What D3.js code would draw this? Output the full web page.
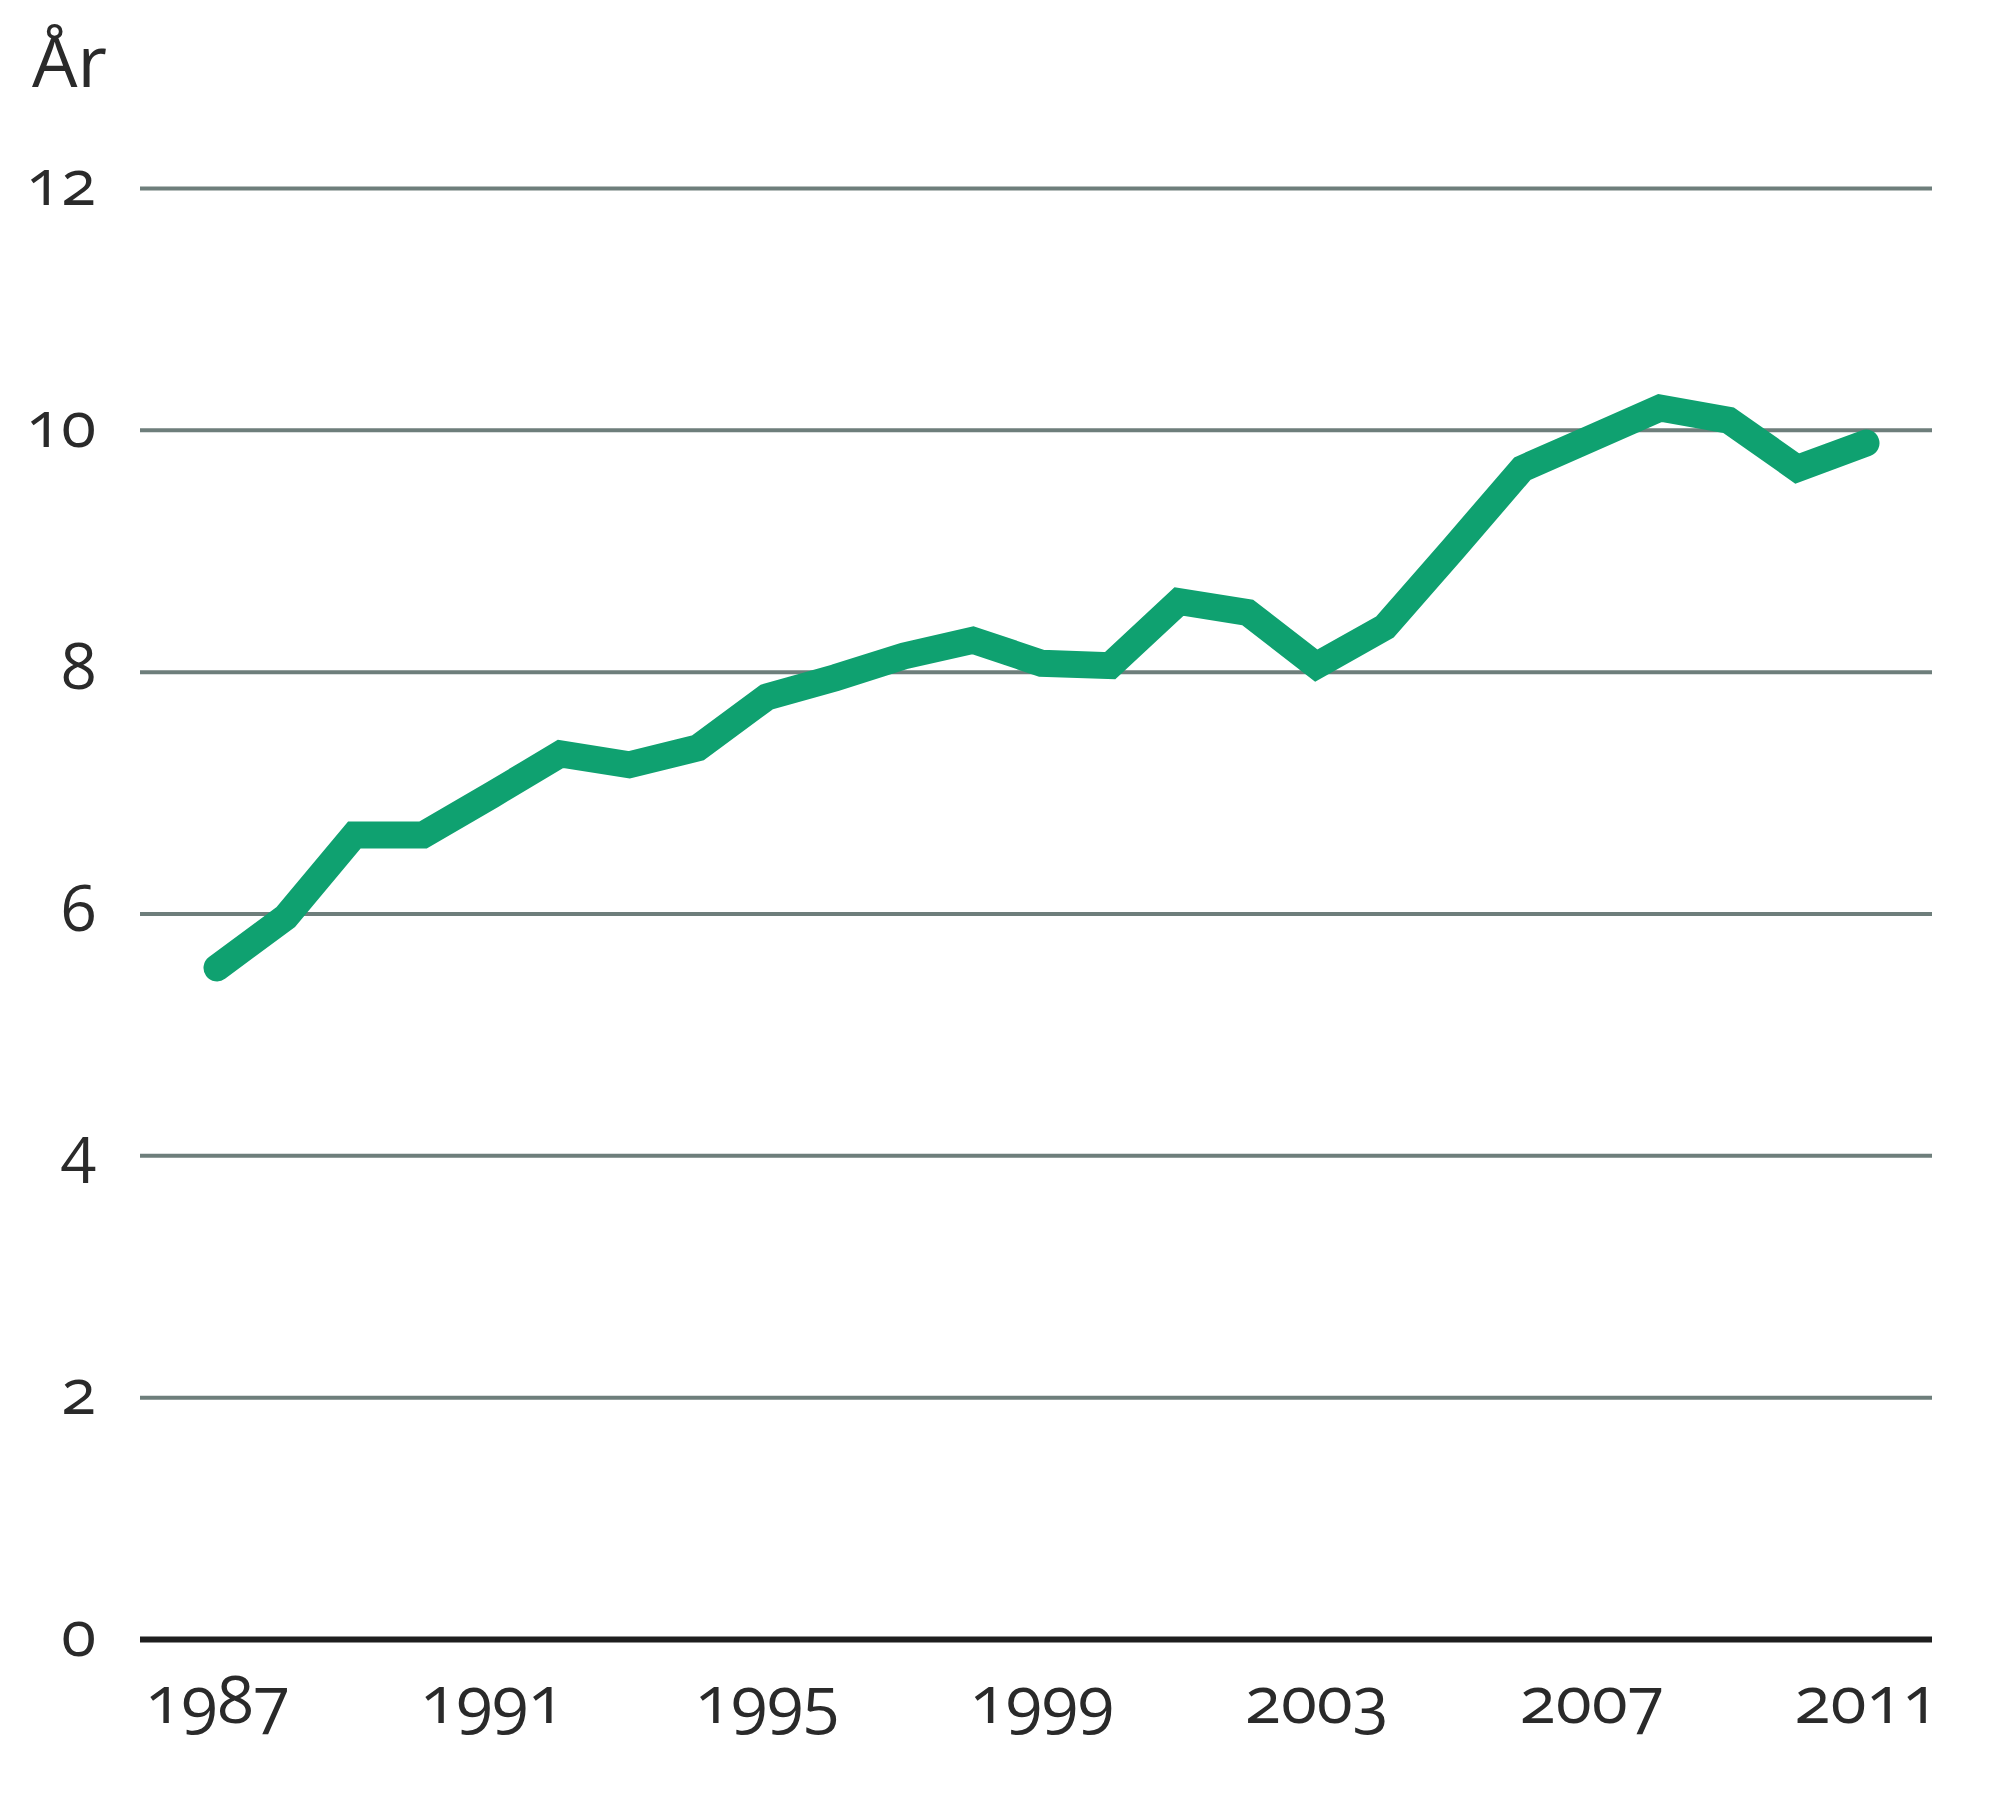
<!DOCTYPE html>
<html>
<head>
<meta charset="utf-8">
<script src="https://cdn.jsdelivr.net/npm/d3@7"></script>
<style>
  html, body { margin: 0; padding: 0; background: #ffffff; }
  svg { display: block; }
  text { font-family: "Open Sans", "Noto Sans", sans-serif; fill: #2a2a2a; font-variant-numeric: oldstyle-nums; }
</style>
</head>
<body>
<svg id="chart" width="2000" height="1800"></svg>
<script>
const years = [1987,1988,1989,1990,1991,1992,1993,1994,1995,1996,1997,1998,1999,2000,2001,2002,2003,2004,2005,2006,2007,2008,2009,2010,2011];
const values = [5.55,5.97,6.65,6.65,6.98,7.32,7.23,7.37,7.79,7.95,8.13,8.26,8.07,8.05,8.58,8.49,8.05,8.37,9.02,9.68,9.93,10.18,10.08,9.68,9.89];
const yTicks = [0,2,4,6,8,10,12];
const xTicks = [1987,1991,1995,1999,2003,2007,2011];
const yTitle = "År";

const svg = d3.select("#chart");
const gridLeft = 140, gridRight = 1932;
const x = d3.scaleLinear().domain([1987, 2011]).range([217, 1866]);
const y = d3.scaleLinear().domain([0, 12]).range([1639, 188]);

// gridlines + y labels
const yAxis = d3.axisLeft(y).tickValues(yTicks).tickSize(-(gridRight - gridLeft)).tickPadding(44).tickFormat(d3.format("d"));
const gy = svg.append("g").attr("transform", `translate(${gridLeft},0)`).call(yAxis);
gy.select(".domain").remove();
gy.selectAll(".tick line")
  .attr("stroke", d => d === 0 ? "#1e1e1e" : "#6e7e7b")
  .attr("stroke-width", d => d === 0 ? 6 : 4);
gy.selectAll(".tick text")
  .attr("font-size", 64)
  .attr("dy", "0.26em")
  .attr("fill", "#2a2a2a");

// x labels
const xAxis = d3.axisBottom(x).tickValues(xTicks).tickSize(0).tickPadding(0).tickFormat(d3.format("d"));
const gx = svg.append("g").attr("transform", `translate(0,${y(0)})`).call(xAxis);
gx.select(".domain").remove();
gx.selectAll(".tick text")
  .attr("font-size", 66)
  .attr("dy", null)
  .attr("y", 84)
  .attr("fill", "#2a2a2a");

// title
svg.append("text").attr("x", 32).attr("y", 87).attr("font-size", 72).text(yTitle);

// line
const line = d3.line().x((d, i) => x(years[i])).y(d => y(d));
svg.append("path")
  .datum(values)
  .attr("d", line)
  .attr("fill", "none")
  .attr("stroke", "#0fa170")
  .attr("stroke-width", 27)
  .attr("stroke-linecap", "round")
  .attr("stroke-linejoin", "miter");
</script>
</body>
</html>
